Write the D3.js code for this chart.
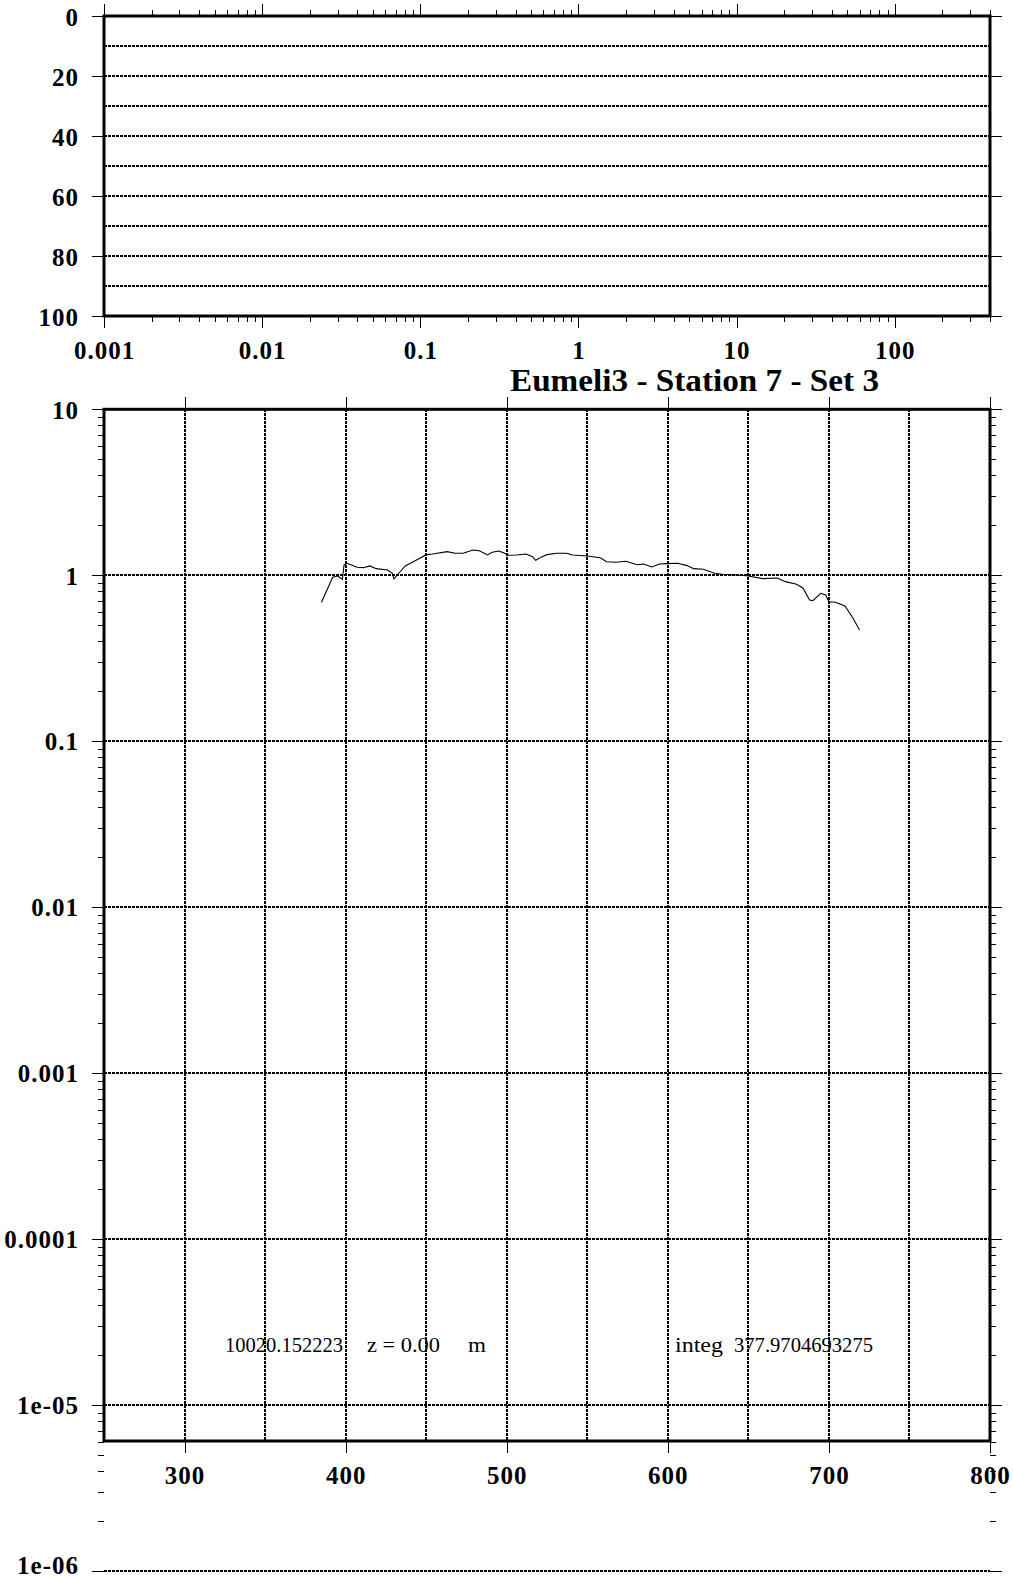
<!DOCTYPE html>
<html><head><meta charset="utf-8">
<script src="https://cdn.jsdelivr.net/npm/d3@7"></script>
<style>
body{margin:0;background:#fff}
svg{display:block}
.tk text{font-family:"Liberation Serif","Times New Roman",serif;font-weight:bold;font-size:25px;letter-spacing:1px;fill:#000}
.tk line{stroke:#000;stroke-width:1;shape-rendering:crispEdges}
.note{font-family:"Liberation Serif","Times New Roman",serif;font-size:21px;fill:#000}
.title{font-family:"Liberation Serif","Times New Roman",serif;font-weight:bold;font-size:32px;fill:#000}
</style>
</head><body><svg id="c" width="1013" height="1581"></svg>
<script>
// ---- data ----
const wavelengths = [385,392,395,398,399,401,404,407,411,415,419,426,429,430,433,437,442,446,450,454,
  463,468,473,479,483,488,491,495,498,501,506,512,516,518,522,525,531,537,541,550,
  558,562,568,574,581,585,590,595,599,606,612,616,622,629,634,649,659,668,673,680,
  684,688,690,695,698,700,704,710,715,719];
const values = [0.688,0.973,0.990,0.946,1.154,1.181,1.149,1.117,1.111,1.138,
  1.096,1.076,1.028,0.950,1.028,1.138,1.207,1.266,1.331,1.344,
  1.387,1.357,1.357,1.420,1.406,1.325,1.376,1.401,1.368,1.320,
  1.325,1.344,1.295,1.231,1.295,1.331,1.357,1.357,1.325,1.307,
  1.275,1.207,1.198,1.214,1.158,1.170,1.122,1.170,1.175,1.181,
  1.143,1.096,1.087,1.028,1.014,0.994,0.954,0.963,0.915,0.883,
  0.835,0.710,0.703,0.779,0.761,0.693,0.688,0.653,0.551,0.468];
const topXTicks = [0.001,0.01,0.1,1,10,100];
const topXLabels = ["0.001","0.01","0.1","1","10","100"];
const topYTicks = [0,20,40,60,80,100];
const topYGrid = [10,20,30,40,50,60,70,80,90];
const botXTicks = [300,400,500,600,700,800];
const botXGrid = [300,350,400,450,500,550,600,650,700,750];
const botYTicks = [10,1,0.1,0.01,0.001,0.0001,1e-5,1e-6];
const botYLabels = ["10","1","0.1","0.01","0.001","0.0001","1e-05","1e-06"];
const titleText = "Eumeli3 - Station 7 - Set 3";
const noteTexts = ["10020.152223","z = 0.00","m","integ","377.9704693275"];

// ---- layout ----
const svg = d3.select("#c");
const L = 104, R = 990;
const T1 = 16, B1 = 316;
const T2 = 409.3, B2 = 1441, Y6 = 1571;

const xTop = d3.scaleLog().domain([0.001,400]).range([L,R]);
const yTop = d3.scaleLinear().domain([0,100]).range([T1,B1]);
const xBot = d3.scaleLinear().domain([250,800]).range([L,R]);
const yBot = d3.scaleLog().domain([1e-6,10]).range([Y6,T2]);

function minors(decades, maxV){
  const out=[];
  decades.forEach(d=>{for(let k=2;k<=9;k++){const v=d*k; if(v<=maxV*1.0001) out.push(v);}});
  return out;
}
const topXMinor = minors([0.001,0.01,0.1,1,10,100], 400);
const botYMinor = minors([1e-6,1e-5,1e-4,1e-3,1e-2,0.1,1], 10);

const grid = "stroke:#000;stroke-width:2;stroke-dasharray:3,1;fill:none;shape-rendering:crispEdges";
function noDomain(g){g.select(".domain").remove();}
function axis(gen, tx, ty){
  return svg.append("g").attr("class","tk").attr("transform",`translate(${tx},${ty})`).call(gen).call(noDomain);
}
const r = v => Math.round(v);

// ---- top panel ----
svg.append("g").selectAll("line").data(topYGrid).join("line")
  .attr("x1",L).attr("x2",R).attr("y1",d=>r(yTop(d))).attr("y2",d=>r(yTop(d))).attr("style",grid);

axis(d3.axisTop(xTop).tickValues(topXTicks).tickSize(12).tickFormat(""),0,T1);
axis(d3.axisTop(xTop).tickValues(topXMinor).tickSize(6).tickFormat(""),0,T1);
axis(d3.axisBottom(xTop).tickValues(topXTicks).tickSize(12).tickPadding(13).tickFormat((d,i)=>topXLabels[i]),0,B1);
axis(d3.axisBottom(xTop).tickValues(topXMinor).tickSize(6).tickFormat(""),0,B1);
axis(d3.axisLeft(yTop).tickValues(topYTicks).tickSize(12).tickPadding(13).tickFormat(d3.format("d")),L,0)
  .selectAll("text").attr("dy","0.37em");
axis(d3.axisRight(yTop).tickValues(topYTicks).tickSize(12).tickFormat(""),R,0);

svg.append("rect").attr("x",L).attr("y",T1).attr("width",R-L).attr("height",B1-T1)
  .attr("fill","none").attr("stroke","#000").attr("stroke-width",3);

// ---- title ----
svg.append("text").attr("class","title").attr("x",510).attr("y",391)
  .attr("textLength",369).attr("lengthAdjust","spacingAndGlyphs").text(titleText);

// ---- bottom panel ----
svg.append("g").selectAll("line").data(botXGrid).join("line")
  .attr("x1",d=>r(xBot(d))).attr("x2",d=>r(xBot(d))).attr("y1",T2).attr("y2",B2).attr("style",grid);
svg.append("g").selectAll("line").data(botYTicks).join("line")
  .attr("x1",L).attr("x2",R).attr("y1",d=>r(yBot(d))).attr("y2",d=>r(yBot(d))).attr("style",grid);

axis(d3.axisTop(xBot).tickValues(botXTicks).tickSize(12).tickFormat(""),0,T2);
axis(d3.axisBottom(xBot).tickValues(botXTicks).tickSize(12).tickPadding(13).tickFormat(d3.format("d")),0,B2);
axis(d3.axisLeft(yBot).tickValues(botYTicks).tickSize(12).tickPadding(13).tickFormat((d,i)=>botYLabels[i]),L,0)
  .selectAll("text").attr("dy",(d,i)=> i===botYTicks.length-1 ? "0.1em" : "0.35em");
axis(d3.axisLeft(yBot).tickValues(botYMinor).tickSize(6).tickFormat(""),L,0);
axis(d3.axisRight(yBot).tickValues(botYTicks).tickSize(12).tickFormat(""),R,0);
axis(d3.axisRight(yBot).tickValues(botYMinor).tickSize(6).tickFormat(""),R,0);

svg.append("rect").attr("x",L).attr("y",T2).attr("width",R-L).attr("height",B2-T2)
  .attr("fill","none").attr("stroke","#000").attr("stroke-width",3);

// ---- data line ----
const pts = wavelengths.map((w,i)=>[w,values[i]]);
svg.append("path").datum(pts)
  .attr("d",d3.line().x(d=>xBot(d[0])).y(d=>yBot(d[1])))
  .attr("fill","none").attr("stroke","#000").attr("stroke-width",1.1);

// ---- annotations ----
const notePos = [[225,118],[367,73],[468,18],[675,48],[734,139]];
svg.append("g").selectAll("text").data(noteTexts).join("text").attr("class","note")
  .attr("x",(d,i)=>notePos[i][0]).attr("y",1352)
  .attr("textLength",(d,i)=>notePos[i][1]).attr("lengthAdjust","spacingAndGlyphs")
  .text(d=>d);
</script>
</body></html>
